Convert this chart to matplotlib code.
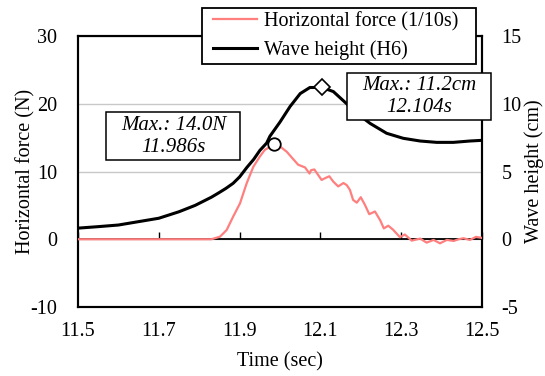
import matplotlib
matplotlib.use("Agg")
import matplotlib.pyplot as plt
from matplotlib.patches import Rectangle

plt.rcParams['font.family'] = ['Liberation Serif', 'DejaVu Serif']
plt.rcParams['font.size'] = 14.5
plt.rcParams['axes.unicode_minus'] = False

# wave height record at gauge H6 (cm)
wave_t = [11.50, 11.55, 11.60, 11.65, 11.70, 11.75, 11.79, 11.83, 11.847, 11.866,
          11.884, 11.9, 11.918, 11.935, 11.95, 11.967, 11.975, 12.00, 12.025, 12.05,
          12.074, 12.104, 12.132, 12.165, 12.19, 12.223, 12.264, 12.305, 12.347, 12.388,
          12.429, 12.47, 12.50]
wave_h = [0.82, 0.93, 1.05, 1.3, 1.55, 2.03, 2.5, 3.1, 3.4, 3.75,
          4.13, 4.6, 5.3, 5.9, 6.55, 7.1, 7.6, 8.65, 9.8, 10.75,
          11.2, 11.2, 10.9, 10.0, 9.3, 8.55, 7.82, 7.45, 7.25, 7.15,
          7.15, 7.25, 7.3]

# horizontal force record (N), 1/10 scale model
force_t = [11.50, 11.83, 11.8515, 11.868, 11.884, 11.901, 11.9175, 11.934, 11.95, 11.9625,
           11.986, 12.0, 12.017, 12.033, 12.045, 12.062, 12.073, 12.077, 12.085, 12.092,
           12.103, 12.111, 12.122, 12.132, 12.144, 12.157, 12.165, 12.173, 12.181, 12.19,
           12.2, 12.21, 12.221, 12.235, 12.248, 12.257, 12.268, 12.28, 12.297, 12.309,
           12.326, 12.347, 12.363, 12.38, 12.396, 12.413, 12.43, 12.442, 12.454, 12.47,
           12.485, 12.5]
force = [0.0, 0.0, 0.38, 1.37, 3.33, 5.3, 8.26, 10.7, 12.2, 13.2,
         14.0, 13.7, 12.9, 11.8, 11.0, 10.6, 9.7, 10.2, 10.3, 9.7,
         8.75, 9.0, 9.3, 8.5, 7.8, 8.3, 8.0, 7.3, 5.8, 5.4,
         6.2, 5.1, 3.7, 4.1, 2.8, 1.6, 2.0, 1.4, 0.3, 0.7,
         -0.2, 0.1, -0.5, -0.1, -0.6, -0.1, -0.25, 0.0, 0.15, -0.1,
         0.35, 0.2]

force_peak = (11.986, 14.0)
wave_peak = (12.104, 11.2)

x_ticks = [11.5, 11.7, 11.9, 12.1, 12.3, 12.5]
force_lim = (-10, 30)
wave_lim = (-5, 15)

fig = plt.figure(figsize=(5.45, 3.76), dpi=100)
ax2 = fig.add_axes([78 / 545, 1 - 307 / 376, 404 / 545, 271 / 376])
ax = ax2.twinx()
ax.yaxis.tick_left()
ax.yaxis.set_label_position('left')
ax2.yaxis.tick_right()
ax2.yaxis.set_label_position('right')
ax.set_zorder(ax2.get_zorder() + 1)
ax.patch.set_visible(False)
ax2.patch.set_visible(True)

# wave height on the right-hand axis
ax2.plot(wave_t, wave_h, color='black', lw=2.2, zorder=3, solid_joinstyle='round')
ax2.set_ylim(*wave_lim)
ax2.set_yticks([-5, 0, 5, 10, 15])
ax2.yaxis.grid(True, color='#c8c8c8', lw=1)
ax2.tick_params(axis='y', length=0, pad=14)
ax2.set_ylabel('Wave height (cm)', rotation=90, labelpad=2)

# force on the left-hand axis
ax.plot(force_t, force, color='#ff7f7f', lw=1.6, zorder=4, solid_joinstyle='round',
        label='Horizontal force (1/10s)')
ax.plot([], [], color='black', lw=2.2, label='Wave height (H6)')
ax.plot(*force_peak, marker='o', ms=9, mfc='white', mec='black', mew=1.3, zorder=6)
ax.plot(wave_peak[0], wave_peak[1] * 2, marker='D', ms=8, mfc='white', mec='black',
        mew=1.2, zorder=6)
ax.set_ylim(*force_lim)
ax.set_yticks([-10, 0, 10, 20, 30])
ax.tick_params(axis='y', length=0, pad=15)
ax.set_ylabel('Horizontal force (N)', labelpad=-4)

ax2.set_xlim(11.5, 12.5)
ax2.set_xticks(x_ticks)
ax2.set_xticklabels([f'{v:.1f}' for v in x_ticks])
ax2.tick_params(axis='x', length=0, pad=11)
ax2.set_xlabel('Time (sec)', labelpad=8)
for a in (ax, ax2):
    for s in a.spines.values():
        s.set_linewidth(1.5)
        s.set_color('black')

# horizontal axis line at zero force, ticks pointing upward
zero_frac = (0 - force_lim[0]) / (force_lim[1] - force_lim[0])
zx = ax.secondary_xaxis(zero_frac)
zx.set_xticks(x_ticks)
zx.xaxis.set_ticks_position('bottom')
zx.tick_params(direction='in', length=5, width=1, labelbottom=False, labeltop=False)
zx.spines['bottom'].set_linewidth(1.3)
zx.spines['top'].set_visible(False)

# legend sits in its own framed box overlapping the top of the plot
leg_box = (0.308, 0.898, 0.677, 0.206)
ax.add_patch(Rectangle(leg_box[:2], leg_box[2], leg_box[3], transform=ax.transAxes,
                       facecolor='white', edgecolor='black', lw=1.3, clip_on=False, zorder=9))
leg = ax.legend(loc='center', bbox_to_anchor=(leg_box[0] + leg_box[2] / 2 - 0.008,
                                              leg_box[1] + leg_box[3] / 2),
                frameon=False, fontsize=14.5, handlelength=2.2, borderpad=0,
                labelspacing=0.45, borderaxespad=0, handletextpad=0.35)
leg.set_zorder(10)

# callouts for the peak values
boxes = [((0.0705, 0.542, 0.3315, 0.176), f'Max.: {force_peak[1]:.1f}N\n{force_peak[0]:.3f}s'),
         ((0.665, 0.690, 0.358, 0.174), f'Max.: {wave_peak[1]:.1f}cm\n{wave_peak[0]:.3f}s')]
for (x0, y0, w, h), txt in boxes:
    ax.add_patch(Rectangle((x0, y0), w, h, transform=ax.transAxes, facecolor='white',
                           edgecolor='black', lw=1.1, clip_on=False, zorder=8))
    ax.text(x0 + w / 2, y0 + h / 2, txt, transform=ax.transAxes, ha='center', va='center',
            style='italic', fontsize=15, linespacing=1.25, zorder=9)

fig.savefig('out.png', dpi=100)
